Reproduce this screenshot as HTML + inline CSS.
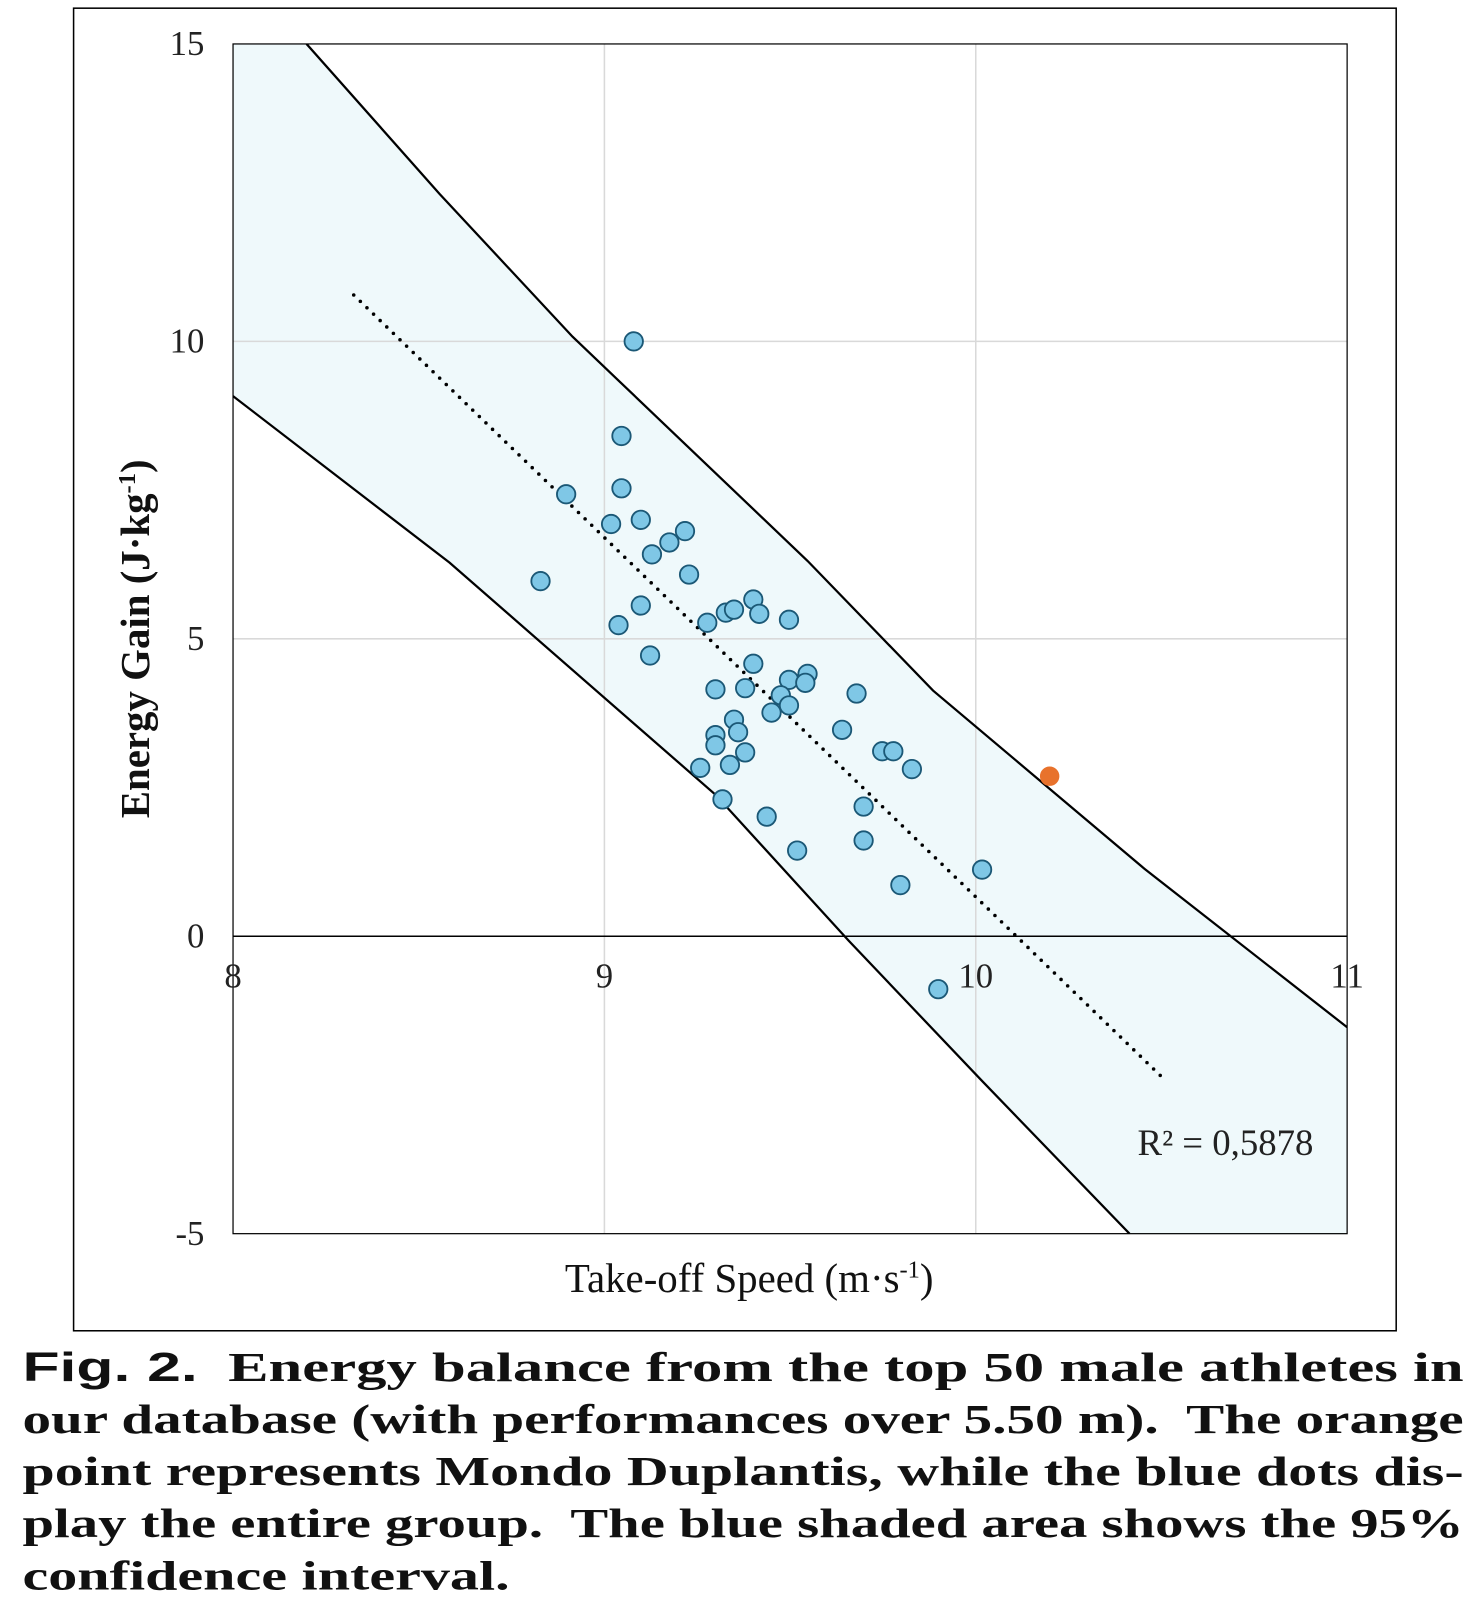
<!DOCTYPE html>
<html><head><meta charset="utf-8"><style>
body{margin:0;background:#fff;width:1481px;height:1600px;overflow:hidden;font-family:"Liberation Serif",serif}
#wrap{position:absolute;left:0;top:0;width:1449px;height:1566px;transform:scale(1.0221);transform-origin:0 0}
#cap{position:absolute;left:22px;top:1312px;width:1410px;font-weight:bold;font-size:40px;line-height:51px;color:#111}
#cap div{height:51px;white-space:nowrap}
#cap span.l{display:inline-block;transform-origin:0 50%;white-space:pre}
</style></head><body>
<div id="wrap">
<svg id="chart" width="1449" height="1310" style="position:absolute;left:0;top:0" font-family="Liberation Serif, serif"></svg>
<div id="cap">
<div><span class="l"><span style="font-family:'Liberation Sans',sans-serif">Fig. 2.</span>  Energy balance from the top 50 male athletes in</span></div>
<div><span class="l">our database (with performances over 5.50 m).  The orange</span></div>
<div><span class="l">point represents Mondo Duplantis, while the blue dots dis-</span></div>
<div><span class="l">play the entire group.  The blue shaded area shows the 95%</span></div>
<div><span class="l last">confidence interval.</span></div>
</div>
</div>
<script>
const xTicks=[8,9,10,11];
const yTicks=[-5,0,5,10,15];
const ptX=[9.079,9.046,8.897,9.046,9.018,9.098,9.175,9.217,9.128,9.228,8.828,9.098,9.038,9.123,9.277,9.327,9.349,9.401,9.417,9.497,9.401,9.299,9.379,9.497,9.547,9.541,9.475,9.497,9.450,9.349,9.360,9.299,9.299,9.379,9.338,9.258,9.640,9.679,9.748,9.778,9.828,9.318,9.437,9.698,9.519,9.698,9.797,10.017,9.899];
const ptY=[10.0,8.41,7.43,7.53,6.93,7.00,6.62,6.81,6.42,6.08,5.97,5.56,5.23,4.72,5.27,5.44,5.49,5.66,5.42,5.32,4.58,4.15,4.17,4.31,4.41,4.26,4.05,3.88,3.76,3.64,3.43,3.38,3.21,3.09,2.88,2.83,3.47,4.08,3.11,3.11,2.81,2.30,2.01,2.18,1.44,1.61,0.86,1.12,-0.89];
const duplantisX=[10.199];
const duplantisY=[2.69];
const upperX=[8.198,8.556,8.914,9.547,9.885,10.455,11];
const upperY=[15,12.48,10.08,6.31,4.13,1.13,-1.53];
const lowerX=[8,8.583,9.299,9.657,10.015,10.414];
const lowerY=[9.08,6.28,2.38,-0.07,-2.42,-5];
const trendX=[8.325,10.51];
const trendY=[10.78,-2.42];
const X0=228,X1=1318,Y0=1207,Y1=43;
const sx=v=>X0+(v-8)/3*(X1-X0);
const sy=v=>Y0-(v+5)/20*(Y0-Y1);
const svg=document.getElementById('chart');
const NS='http://www.w3.org/2000/svg';
function mk(t,a,p){const e=document.createElementNS(NS,t);for(const k in a)e.setAttribute(k,a[k]);(p||svg).appendChild(e);return e;}
let e;
e=mk('rect',{x:72,y:8,width:1294,height:1294,fill:'none',stroke:'#000','stroke-width':1.5});


const defs=mk('defs',{});const cp=mk('clipPath',{id:'cp'},defs);mk('rect',{x:X0,y:Y1,width:X1-X0,height:Y0-Y1},cp);
let d='M'+sx(8)+','+sy(15);
upperX.forEach((v,i)=>d+=' L'+sx(v)+','+sy(upperY[i]));
d+=' L'+sx(11)+','+sy(-5);
for(let i=lowerX.length-1;i>=0;i--)d+=' L'+sx(lowerX[i])+','+sy(lowerY[i]);
d+='Z';
e=mk('path',{d:d,fill:'#eff9fb','clip-path':'url(#cp)'});


xTicks.forEach(t=>{if(t>8&&t<11){e=mk('line',{x1:sx(t),x2:sx(t),y1:Y1,y2:Y0,stroke:'#d9d9d9','stroke-width':1.5});

}});
yTicks.forEach(t=>{if(t>-5&&t<15&&t!==0){e=mk('line',{x1:X0,x2:X1,y1:sy(t),y2:sy(t),stroke:'#d9d9d9','stroke-width':1.5});

}});
e=mk('line',{x1:X0,x2:X1,y1:sy(0),y2:sy(0),stroke:'#000','stroke-width':1.5});


e=mk('rect',{x:X0,y:Y1,width:X1-X0,height:Y0-Y1,fill:'none',stroke:'#000','stroke-width':1.2});


function poly(xs,ys,name){e=mk('polyline',{points:xs.map((v,i)=>sx(v)+','+sy(ys[i])).join(' '),fill:'none',stroke:'#000','stroke-width':2.2,'clip-path':'url(#cp)'});

}
poly(upperX,upperY,'upper-ci-line');poly(lowerX,lowerY,'lower-ci-line');
e=mk('line',{x1:sx(trendX[0]),y1:sy(trendY[0]),x2:sx(trendX[1]),y2:sy(trendY[1]),stroke:'#000','stroke-width':3.5,'stroke-dasharray':'0 9','stroke-linecap':'round'});


ptX.forEach((v,i)=>{e=mk('circle',{cx:sx(v),cy:sy(ptY[i]),r:9,fill:'#7fc7e6',stroke:'#1b5876','stroke-width':1.8});

});
e=mk('circle',{cx:sx(duplantisX[0]),cy:sy(duplantisY[0]),r:9,fill:'#e8722c',stroke:'#e8722c','stroke-width':1});


xTicks.forEach(t=>{e=mk('text',{x:sx(t),y:966,'font-size':34,'text-anchor':'middle',fill:'#222'});e.textContent=t;

});
yTicks.forEach(t=>{e=mk('text',{x:200,y:sy(t)+11,'font-size':34,'text-anchor':'end',fill:'#222'});e.textContent=t;

});
e=mk('text',{x:733,y:1264,'font-size':40,'text-anchor':'middle',fill:'#111'});e.innerHTML='Take-off Speed (m·s<tspan font-size="24" dy="-14">-1</tspan><tspan dy="14">)</tspan>';


e=mk('text',{x:0,y:0,'font-size':40,'font-weight':'bold','text-anchor':'middle',fill:'#111',transform:'translate(146,625) rotate(-90)'});e.innerHTML='Energy Gain (J·kg<tspan font-size="24" dy="-14">-1</tspan><tspan dy="14">)</tspan>';


e=mk('text',{x:1285,y:1130,'font-size':36,'text-anchor':'end',fill:'#222'});e.textContent='R² = 0,5878';


// caption line fitting
const lines=[...document.querySelectorAll('#cap span.l')];
let sum=0,n=0;
lines.forEach(l=>{if(!l.classList.contains('last')){const s=1410/l.getBoundingClientRect().width*1.0221;l.style.transform='scaleX('+s+')';sum+=s;n++;}});
lines.forEach(l=>{if(l.classList.contains('last'))l.style.transform='scaleX('+(sum/n)+')';});
</script>
</body></html>
